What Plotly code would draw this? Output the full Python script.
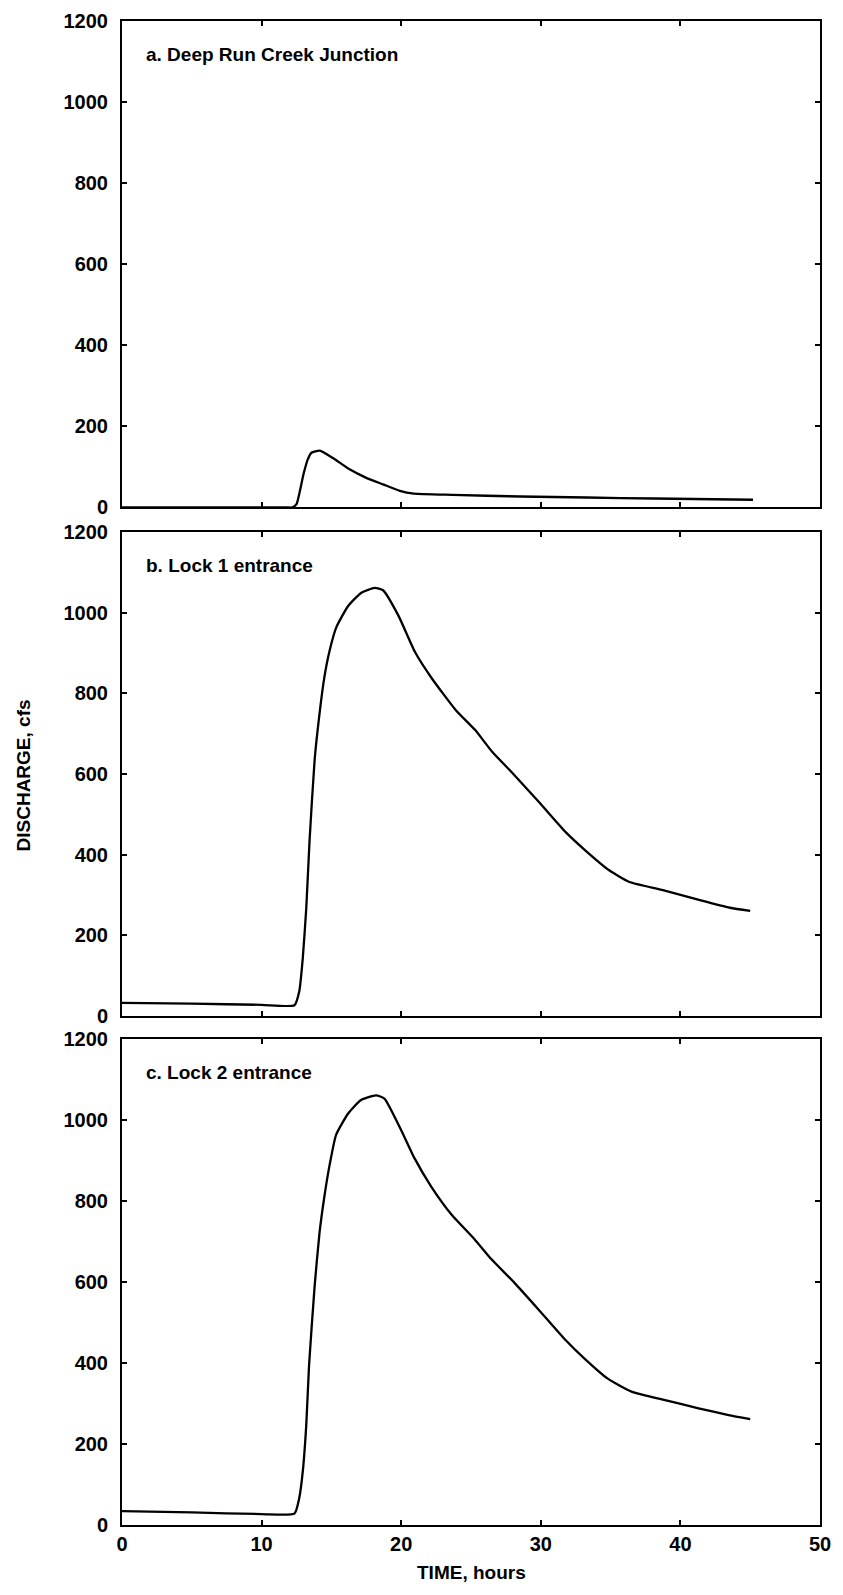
import plotly.graph_objects as go

# ---- data ----
time_a = [0, 6, 11.8, 12.2, 12.5, 13.0, 13.3, 13.57, 14.17, 15.1, 16.3, 17.5, 18.7, 19.9,
          20.9, 23.7, 28.5, 33.3, 38.1, 45.2]
flow_a = [0, 0, 0, 0, 8, 82, 118, 135, 140, 122, 94, 73, 57, 41,
          34, 31, 27, 24.5, 22, 19]

time_b = [0, 5, 10, 12.35, 12.7, 12.95, 13.2, 13.43, 13.8, 14.15, 14.5, 14.87,
          15.35, 16.2, 17.15, 18.1, 18.7, 19.8, 21.0, 22.2, 23.9, 25.3, 26.5,
          27.95, 29.9, 31.8, 33.2, 34.9, 36.35, 38.75, 41.4, 43.55, 45.0]
flow_b = [32, 30, 27, 26, 61, 143, 267, 431, 636, 750, 841, 906,
          964, 1017, 1050, 1062, 1056, 993, 902, 837, 759, 709, 656,
          603, 529, 455, 410, 361, 332, 312, 287, 268, 260]

time_c = [0, 5, 10, 12.35, 12.7, 12.95, 13.2, 13.4, 13.8, 14.15, 14.5, 14.85,
          15.33, 16.2, 17.1, 18.2, 18.8, 20.0, 20.95, 22.15, 23.6, 25.25, 26.45,
          28.1, 29.8, 31.7, 33.15, 34.8, 36.5, 38.9, 41.3, 43.45, 45.0]
flow_c = [34, 31, 27, 28, 67, 132, 247, 394, 590, 721, 811, 884,
          962, 1015, 1048, 1060, 1052, 974, 905, 835, 766, 705, 656,
          598, 533, 459, 410, 361, 329, 308, 288, 271, 261]

panel_labels = ["a. Deep Run Creek Junction", "b. Lock 1 entrance", "c. Lock 2 entrance"]
x_ticks = [0, 10, 20, 30, 40, 50]
y_ticks = [0, 200, 400, 600, 800, 1000, 1200]
x_title = "TIME, hours"
y_title = "DISCHARGE, cfs"

# ---- figure ----
W, H = 843, 1595
ML, MR, MT, MB = 122, 23, 10, 70
PH = H - MT - MB

def dom(top_px, bot_px):
    return [(H - MB - bot_px) / PH, (H - MB - top_px) / PH]

domains = [dom(10, 500), dom(525, 1012), dom(1035, 1525)]
series = [(time_a, flow_a), (time_b, flow_b), (time_c, flow_c)]

FONT = "Liberation Sans, Arial, Helvetica, sans-serif"
fig = go.Figure()

for i, (t, q) in enumerate(series):
    n = i + 1
    fig.add_trace(go.Scatter(
        x=t, y=q, mode="lines",
        line=dict(color="black", width=2.3, shape="spline", smoothing=0.5),
        xaxis=f"x{n}", yaxis=f"y{n}", showlegend=False, hoverinfo="skip"))

layout = dict(
    width=W, height=H,
    margin=dict(l=ML, r=MR, t=MT, b=MB),
    paper_bgcolor="white", plot_bgcolor="white",
    font=dict(family=FONT, size=20, color="black", weight="bold"),
    showlegend=False,
)

for i in range(3):
    n = i + 1
    sfx = "" if n == 1 else str(n)
    layout[f"xaxis{sfx}"] = dict(
        domain=[0, 1], range=[0, 50], anchor=f"y{n}",
        tickvals=x_ticks, ticks="inside", ticklen=5, tickwidth=1.5, tickcolor="black",
        showline=True, linecolor="black", linewidth=2, mirror="ticks",
        showgrid=False, zeroline=False,
        showticklabels=(n == 3),
        tickfont=dict(family=FONT, size=20, color="black", weight="bold"),
    )
    layout[f"yaxis{sfx}"] = dict(
        domain=domains[i], range=[0, 1200], anchor=f"x{n}",
        tickvals=y_ticks, ticks="inside", ticklen=5, tickwidth=1.5, tickcolor="black",
        showline=True, linecolor="black", linewidth=2, mirror="ticks",
        showgrid=False, zeroline=False, ticklabelstandoff=8,
        tickfont=dict(family=FONT, size=20, color="black", weight="bold"),
    )

fig.update_layout(**layout)

for i, lab in enumerate(panel_labels):
    n = i + 1
    fig.add_annotation(
        x=1.6, y=1117, xref=f"x{n}", yref=f"y{n}", text=lab, showarrow=False,
        xanchor="left", yanchor="middle",
        font=dict(family=FONT, size=19, color="black", weight="bold"))

fig.add_annotation(
    x=(23 - ML) / (W - ML - MR), y=(H - MB - 770) / PH, xref="paper", yref="paper",
    text=y_title, textangle=-90, showarrow=False, xanchor="center", yanchor="middle",
    font=dict(family=FONT, size=19, color="black", weight="bold"))

fig.add_annotation(
    x=0.5, y=(H - MB - 1573) / PH, xref="paper", yref="paper",
    text=x_title, showarrow=False, xanchor="center", yanchor="middle",
    font=dict(family=FONT, size=19, color="black", weight="bold"))

fig.write_html("out.html")
